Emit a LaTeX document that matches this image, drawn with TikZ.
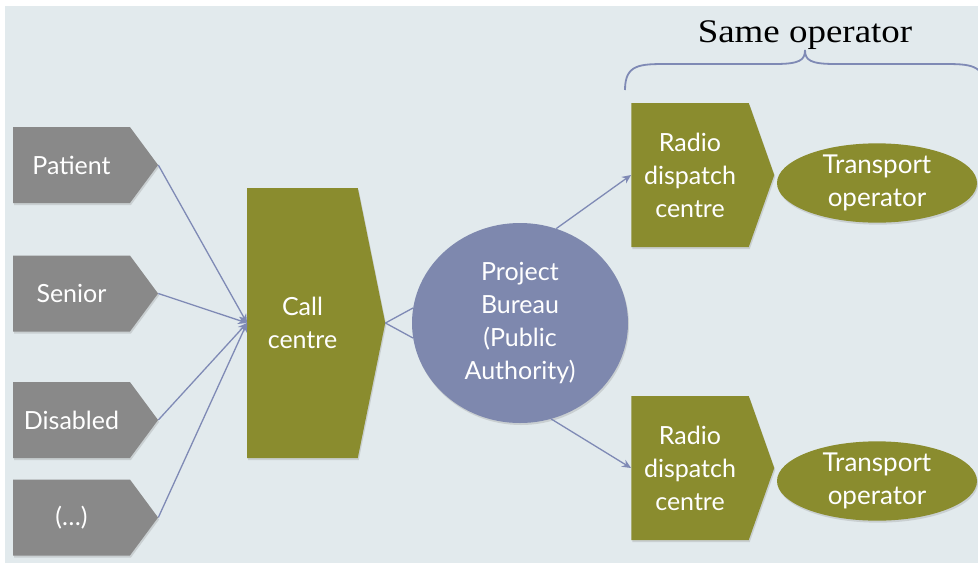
\documentclass[tikz,border=0pt]{standalone}
\usepackage{fontspec}
\setmainfont{Lato}
\newfontfamily\opfont[FakeStretch=1.12]{Liberation Serif}
\usetikzlibrary{shapes.symbols,shapes.geometric,arrows.meta,shadows}
\definecolor{bgc}{HTML}{E2EAED}
\definecolor{grayc}{HTML}{898989}
\definecolor{olive}{HTML}{8A8C2E}
\definecolor{slate}{HTML}{7E88AE}
\definecolor{linec}{HTML}{7F8AB5}

\begin{document}
\begin{tikzpicture}[x=1pt,y=-1pt,
	txt/.style={text=white, align=center, inner sep=0pt, font=\fontsize{25}{33}\selectfont},
	shade/.style={drop shadow={opacity=0.25, shadow xshift=1pt, shadow yshift=-2pt}},
	user/.style={signal, signal to=east, signal pointer angle=107, fill=grayc, shade, txt, minimum width=145pt, minimum height=76pt},
	centre/.style={signal, signal to=east, fill=olive, shade, txt},
	bureau/.style={ellipse, fill=slate, shade, txt, minimum width=216pt, minimum height=200pt},
	oper/.style={ellipse, fill=olive, shade, txt, font=\fontsize{26}{33}\selectfont, minimum width=200pt, minimum height=78pt},
	arr/.style={draw=linec, line width=1.3pt, -{Stealth[length=9pt,width=8pt]}},
	link/.style={draw=linec, line width=1.3pt}]
		\useasboundingbox (0,0) rectangle (978,563);
		\fill[bgc] (5,6) rectangle (978,563);
		% users on the left
		\node[user] (pat) at (71.5,165) {Patient};
		\node[user] (sen) at (71.5,293.5) {Senior};
		\node[user] (dis) at (71.5,420) {Disabled};
		\node[user] (etc) at (71.5,517.5) {(…)};
		% middle
		\node[centre, signal pointer angle=157, minimum width=138pt, minimum height=270pt] (cc) at (302.5,323) {Call\\centre};
		\node[bureau] (pb) at (520,323) {Project\\Bureau\\(Public\\Authority)};
		% right
		\node[centre, signal pointer angle=141, minimum width=143pt, minimum height=144pt] (rd1) at (690,175) {Radio\\dispatch\\centre};
		\node[centre, signal pointer angle=141, minimum width=143pt, minimum height=144pt] (rd2) at (690,468) {Radio\\dispatch\\centre};
		\node[oper] (to1) at (877,183) {Transport\\operator};
		\node[oper] (to2) at (877,481) {Transport\\operator};
		\node[anchor=base, font=\opfont\fontsize{33}{34}\selectfont] (same) at (805,42) {Same operator};
		\draw[arr] (pat.east)--(cc.west);
		\draw[arr] (sen.east)--(cc.west);
		\draw[arr] (dis.east)--(cc.west);
		\draw[arr] (etc.east)--(cc.west);
		\draw[link] (cc.east)--(pb.172);
		\draw[link] (cc.east)--(pb.188);
		\draw[arr] (pb.69)--(rd1.west);
		\draw[arr] (pb.-72)--(rd2.west);
		% brace
		\draw[link, line width=1.8pt] (625,90) .. controls (625,64) and (640,64) .. (668,64) -- (775,64)
			.. controls (800,64) and (805,60) .. (805,50) .. controls (805,60) and (810,64) .. (835,64) -- (942,64)
			.. controls (970,64) and (985,64) .. (985,90);
	\end{tikzpicture}
\end{document}
